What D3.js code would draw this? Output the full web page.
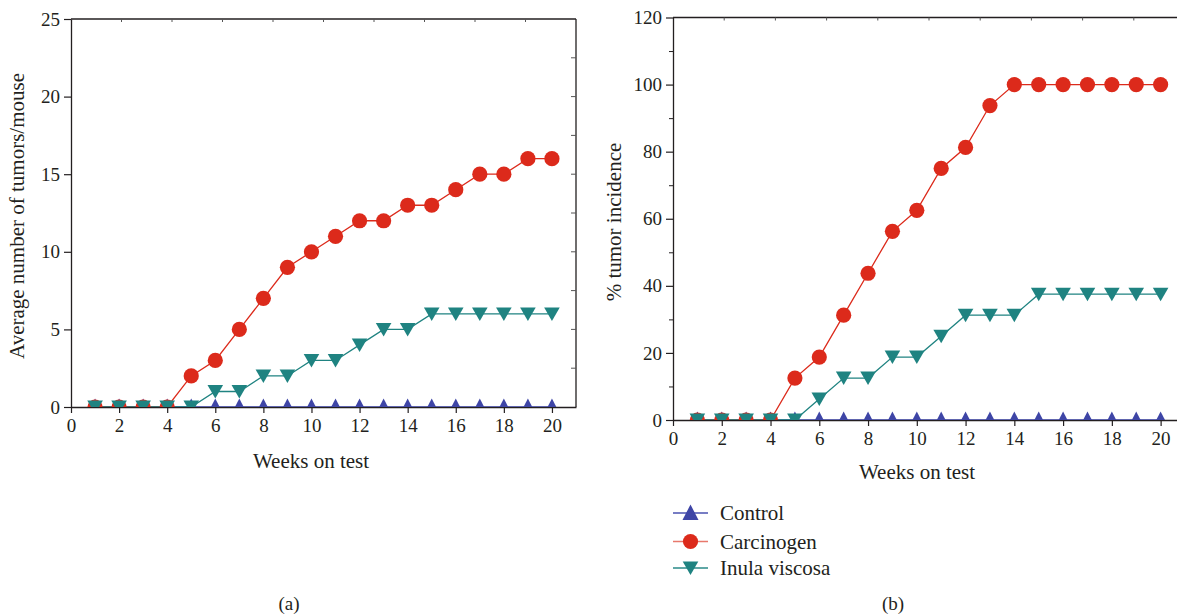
<!DOCTYPE html>
<html>
<head>
<meta charset="utf-8">
<script src="https://cdn.jsdelivr.net/npm/d3@7"></script>
<style>
  body { margin: 0; background: #fff; }
  svg text { font-family: 'Liberation Serif'; fill: #231f20; }
</style>
</head>
<body>
<div id="container"></div>
<script>
var weeks = d3.range(1, 21);

// panel (a): average number of tumors per mouse
var controlA = [0,0,0,0,0,0,0,0,0,0,0,0,0,0,0,0,0,0,0,0];
var carcinogenA = [0,0,0,0,2,3,5,7,9,10,11,12,12,13,13,14,15,15,16,16];
var inulaA = [0,0,0,0,0,1,1,2,2,3,3,4,5,5,6,6,6,6,6,6];

// panel (b): % tumor incidence
var controlB = [0,0,0,0,0,0,0,0,0,0,0,0,0,0,0,0,0,0,0,0];
var carcinogenB = [0,0,0,0,12.5,18.75,31.25,43.75,56.25,62.5,75,81.25,93.75,100,100,100,100,100,100,100];
var inulaB = [0,0,0,0,0,6.25,12.5,12.5,18.75,18.75,25,31.25,31.25,31.25,37.5,37.5,37.5,37.5,37.5,37.5];

var seriesNames = ['Control', 'Carcinogen', 'Inula viscosa'];
var xTicks = [0,2,4,6,8,10,12,14,16,18,20];
var yTicksA = [0,5,10,15,20,25];
var yTicksB = [0,20,40,60,80,100,120];

var colors = { 'Control': '#3e45a6', 'Carcinogen': '#dc2a1b', 'Inula viscosa': '#1f8381' };
var legendLine = { 'Control': '#4a52b0', 'Carcinogen': '#e8786c', 'Inula viscosa': '#2a8a88' };

var FONT = "'Liberation Serif'";

var svg = d3.select('#container').append('svg')
	.attr('width', 1177)
	.attr('height', 616)
	.attr('font-family', FONT);

function marker(name) {
	if (name === 'Carcinogen') return 'M7.6,0A7.6,7.6,0,1,1,-7.6,0A7.6,7.6,0,1,1,7.6,0Z';
	if (name === 'Control') return 'M0,-8.5L8,7L-8,7Z';
	return 'M0,7L7.8,-6.5L-7.8,-6.5Z';
}

function styleAxis(a) {
	a.attr('font-family', FONT).attr('font-size', 19);
	a.select('.domain').attr('stroke', '#231f20').attr('stroke-width', 1.3);
	a.selectAll('line').attr('stroke', '#231f20').attr('stroke-width', 1.2);
	a.selectAll('text').style('font-family', FONT).style('font-size', '19px').attr('fill', '#231f20');
}

function panel(opt) {
	var x = d3.scaleLinear().domain([0, 21]).range([opt.left, opt.right]);
	var y = d3.scaleLinear().domain([0, opt.ymax]).range([opt.bottom, opt.top]);

	var g = svg.append('g');

	var clipId = 'clip-' + opt.id;
	svg.append('clipPath').attr('id', clipId)
		.append('rect')
		.attr('x', opt.left)
		.attr('y', opt.top)
		.attr('width', opt.right - opt.left)
		.attr('height', opt.bottom - opt.top);

	// frame: top and right
	g.append('line')
		.attr('x1', opt.left).attr('x2', opt.right)
		.attr('y1', opt.top).attr('y2', opt.top)
		.attr('stroke', '#231f20').attr('stroke-width', 1.3);
	g.append('line')
		.attr('x1', opt.right).attr('x2', opt.right)
		.attr('y1', opt.top).attr('y2', opt.bottom)
		.attr('stroke', '#231f20').attr('stroke-width', 1.3);
	// small inward ticks on top edge
	g.selectAll('.ttick').data(d3.range(1, 10)).enter().append('line')
		.attr('x1', function(d) { return opt.left + d * (opt.right - opt.left) / 10; })
		.attr('x2', function(d) { return opt.left + d * (opt.right - opt.left) / 10; })
		.attr('y1', opt.top).attr('y2', opt.top + 3)
		.attr('stroke', '#555').attr('stroke-width', 1);
	// inward ticks on right edge
	g.selectAll('.rtick').data(d3.range(1, 10)).enter().append('line')
		.attr('x1', opt.right).attr('x2', opt.right - 5)
		.attr('y1', function(d) { return opt.bottom - d * (opt.bottom - opt.top) / 10; })
		.attr('y2', function(d) { return opt.bottom - d * (opt.bottom - opt.top) / 10; })
		.attr('stroke', '#555').attr('stroke-width', 1);

	// minor y ticks
	if (opt.minor) {
		g.append('g')
			.attr('transform', 'translate(' + opt.left + ',0)')
			.call(d3.axisLeft(y).tickValues(opt.minor).tickSize(4).tickFormat(''))
			.call(function(s) { s.select('.domain').remove(); s.selectAll('line').attr('stroke', '#231f20'); });
	}

	// y axis
	var ya = g.append('g')
		.attr('transform', 'translate(' + opt.left + ',0)')
		.call(d3.axisLeft(y).tickValues(opt.yTicks).tickSize(7).tickSizeOuter(0).tickPadding(4));
	styleAxis(ya);

	// x axis
	var xa = g.append('g')
		.attr('transform', 'translate(0,' + opt.bottom + ')')
		.call(d3.axisBottom(x).tickValues(xTicks).tickSize(6).tickSizeOuter(0).tickPadding(opt.xpad));
	styleAxis(xa);

	// series
	var plot = g.append('g').attr('clip-path', 'url(#' + clipId + ')');
	var line = d3.line()
		.x(function(d) { return x(d.w); })
		.y(function(d) { return y(d.v); });

	opt.series.forEach(function(s) {
		var pts = weeks.map(function(w, i) { return { w: w, v: s.values[i] }; });
		plot.append('path')
			.datum(pts)
			.attr('d', line)
			.attr('fill', 'none')
			.attr('stroke', colors[s.name])
			.attr('stroke-width', 1.3);
	});
	opt.series.forEach(function(s) {
		var pts = weeks.map(function(w, i) { return { w: w, v: s.values[i] }; });
		plot.selectAll('.m' + s.name.replace(' ', ''))
			.data(pts).enter().append('path')
			.attr('transform', function(d) { return 'translate(' + x(d.w) + ',' + y(d.v) + ')'; })
			.attr('d', marker(s.name))
			.attr('fill', colors[s.name]);
	});

	// axis titles
	g.append('text')
		.attr('x', opt.xtitleX).attr('y', opt.xtitleY)
		.attr('text-anchor', 'middle')
		.style('font-family', FONT)
		.style('font-size', '21px')
		.text('Weeks on test');
	g.append('text')
		.attr('transform', 'translate(' + opt.ytitleX + ',' + opt.ytitleY + ') rotate(-90)')
		.attr('text-anchor', 'middle')
		.style('font-family', FONT)
		.style('font-size', '21px')
		.text(opt.ytitle);

	g.append('text')
		.attr('x', opt.tagX).attr('y', 610)
		.attr('text-anchor', 'middle')
		.style('font-family', FONT)
		.style('font-size', '19px')
		.text(opt.tag);
}

panel({
	id: 'a', left: 71, right: 576, top: 19, bottom: 407, ymax: 25,
	yTicks: yTicksA, minor: null, xpad: 6,
	series: [
		{ name: 'Control', values: controlA },
		{ name: 'Carcinogen', values: carcinogenA },
		{ name: 'Inula viscosa', values: inulaA }
	],
	xtitleX: 311, xtitleY: 468,
	ytitleX: 24, ytitleY: 216, ytitle: 'Average number of tumors/mouse',
	tagX: 289, tag: '(a)'
});

panel({
	id: 'b', left: 673, right: 1185, top: 17.5, bottom: 420, ymax: 120,
	yTicks: yTicksB, minor: [10,30,50,70,90,110], xpad: 6,
	series: [
		{ name: 'Control', values: controlB },
		{ name: 'Carcinogen', values: carcinogenB },
		{ name: 'Inula viscosa', values: inulaB }
	],
	xtitleX: 917, xtitleY: 479,
	ytitleX: 621, ytitleY: 222, ytitle: '% tumor incidence',
	tagX: 893, tag: '(b)'
});

// legend
var legend = svg.append('g').attr('transform', 'translate(673,513)');
var rows = legend.selectAll('g').data(seriesNames).enter().append('g')
	.attr('transform', function(d, i) { return 'translate(0,' + [0, 28.5, 55][i] + ')'; });
rows.append('line')
	.attr('x1', 0).attr('x2', 35)
	.attr('stroke', function(d) { return legendLine[d]; })
	.attr('stroke-width', 1.6);
rows.append('path')
	.attr('transform', 'translate(17.5,0)')
	.attr('d', function(d) { return marker(d); })
	.attr('fill', function(d) { return colors[d]; });
rows.append('text')
	.attr('x', 47).attr('y', 7)
	.style('font-family', FONT)
	.style('font-size', '21px')
	.text(function(d) { return d; });
</script>
</body>
</html>
